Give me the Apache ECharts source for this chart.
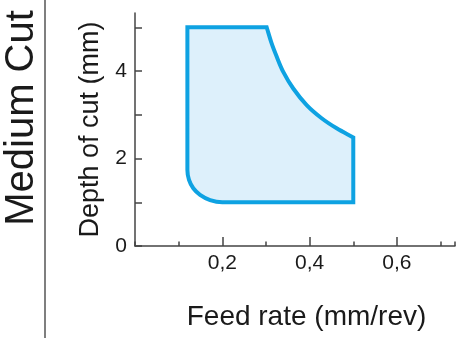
<!DOCTYPE html>
<html>
<head>
<meta charset="utf-8">
<script src="https://cdn.jsdelivr.net/npm/echarts@6/dist/echarts.min.js"></script>
<style>html,body{margin:0;padding:0;background:#fff}#c{width:463px;height:338px}</style>
</head>
<body>
<div id="c"></div>
<script>
// Boundary of the cutting area
var cornerFeed  = [0.12, 0.5];      // top-left corner, bottom-right corner
var cornerDepth = [5.0, 1.0];
var upperArcFeed  = [0.3016, 0.313, 0.3245, 0.3396, 0.3625, 0.3932, 0.4275, 0.4619, 0.5];
var upperArcDepth = [5.0,    4.63,  4.33,   3.98,   3.60,   3.22,   2.92,   2.69,   2.48];
var lowerArcFeed  = [0.2, 0.172, 0.149, 0.1335, 0.1237, 0.12];
var lowerArcDepth = [1.0, 1.05,  1.17,  1.32,   1.51,   1.74];
var xMajorTicks = [0.2, 0.4, 0.6];
var xTickLabels = ['0,2', '0,4', '0,6'];
var yTickLabels = ['0', '2', '4'];

var chart = echarts.init(document.getElementById('c'), null, {renderer: 'canvas'});
var txt = '#1a1a1a';
var axisCol = '#444';
var font = 'Liberation Sans, Arial, sans-serif';

function unit(a, b) {
  var dx = b[0] - a[0], dy = b[1] - a[1], l = Math.sqrt(dx * dx + dy * dy) || 1;
  return [dx / l, dy / l];
}
// smooth curve through pixel points; startDir / endDir optional tangent overrides
function arcPath(pts, startDir, endDir) {
  var n = pts.length, t = [];
  for (var i = 0; i < n; i++) {
    if (i === 0) t.push(startDir || unit(pts[0], pts[1]));
    else if (i === n - 1) t.push(endDir || unit(pts[n - 2], pts[n - 1]));
    else t.push(unit(pts[i - 1], pts[i + 1]));
  }
  var s = '';
  for (var j = 0; j < n - 1; j++) {
    var a = pts[j], b = pts[j + 1];
    var d = Math.sqrt(Math.pow(b[0] - a[0], 2) + Math.pow(b[1] - a[1], 2)) / 3;
    s += ' C' + (a[0] + t[j][0] * d) + ' ' + (a[1] + t[j][1] * d) + ' ' +
         (b[0] - t[j + 1][0] * d) + ' ' + (b[1] - t[j + 1][1] * d) + ' ' + b[0] + ' ' + b[1];
  }
  return s;
}

chart.setOption({
  animation: false,
  grid: {left: 135, right: 8, top: 13, bottom: 92},
  xAxis: [{
    type: 'value', min: 0, max: 0.733, interval: 0.2,
    axisLine: {show: true, lineStyle: {color: axisCol, width: 1.5}},
    axisTick: {show: true, inside: true, length: 9, lineStyle: {color: axisCol, width: 1.5}},
    splitLine: {show: false},
    axisLabel: {
      margin: 7, color: txt, fontSize: 21, fontFamily: font,
      showMaxLabel: false, showMinLabel: false,
      formatter: function (v) {
        var i = xMajorTicks.findIndex(function (t) { return Math.abs(t - v) < 1e-6; });
        return i >= 0 ? xTickLabels[i] : '';
      }
    },
    name: 'Feed rate (mm/rev)', nameLocation: 'middle', nameGap: 57,
    nameTextStyle: {color: txt, fontSize: 28, fontFamily: font, padding: [0, 0, 0, 23]}
  }, {
    type: 'value', min: 0, max: 0.733, interval: 0.1, position: 'bottom',
    axisLine: {show: false},
    axisTick: {show: true, inside: true, length: 4.5, lineStyle: {color: axisCol, width: 1.5}},
    axisLabel: {show: false}, splitLine: {show: false}
  }],
  yAxis: {
    type: 'value', min: 0, max: 5.326, interval: 1,
    axisLine: {show: true, lineStyle: {color: axisCol, width: 1.5}},
    axisTick: {show: true, inside: true, length: 7, lineStyle: {color: axisCol, width: 1.5}},
    splitLine: {show: false},
    axisLabel: {
      margin: 8, color: txt, fontSize: 21, fontFamily: font, showMaxLabel: false,
      formatter: function (v) {
        var i = yTickLabels.indexOf(String(v));
        return i >= 0 ? yTickLabels[i] : '';
      }
    },
    name: 'Depth of cut (mm)', nameLocation: 'middle', nameGap: 27,
    nameTextStyle: {color: txt, fontSize: 27, fontFamily: font}
  },
  graphic: [{
    type: 'text', x: 22, y: 118, rotation: Math.PI / 2,
    style: {text: 'Medium Cut', fill: txt, font: '40px ' + font, align: 'center', verticalAlign: 'middle'}
  }, {
    type: 'line', shape: {x1: 45, y1: 0, x2: 45, y2: 338},
    style: {stroke: '#555', lineWidth: 1.5}
  }],
  series: [{
    type: 'custom',
    xAxisIndex: 0,
    data: [[cornerFeed[0], cornerDepth[0]]],
    renderItem: function (params, api) {
      var tl = api.coord([cornerFeed[0], cornerDepth[0]]);
      var br = api.coord([cornerFeed[1], cornerDepth[1]]);
      var up = upperArcFeed.map(function (f, i) { return api.coord([f, upperArcDepth[i]]); });
      var lo = lowerArcFeed.map(function (f, i) { return api.coord([f, lowerArcDepth[i]]); });
      var d = 'M' + tl[0] + ' ' + tl[1] + ' L' + up[0][0] + ' ' + up[0][1] +
              arcPath(up, null, null) +
              ' L' + br[0] + ' ' + br[1] + ' L' + lo[0][0] + ' ' + lo[0][1] +
              arcPath(lo, [-1, 0], [0, -1]) + ' Z';
      return {
        type: 'path',
        shape: {pathData: d},
        style: {fill: '#DDF0FB', stroke: '#0EA2E2', lineWidth: 4, lineJoin: 'miter'}
      };
    }
  }]
});
</script>
</body>
</html>
